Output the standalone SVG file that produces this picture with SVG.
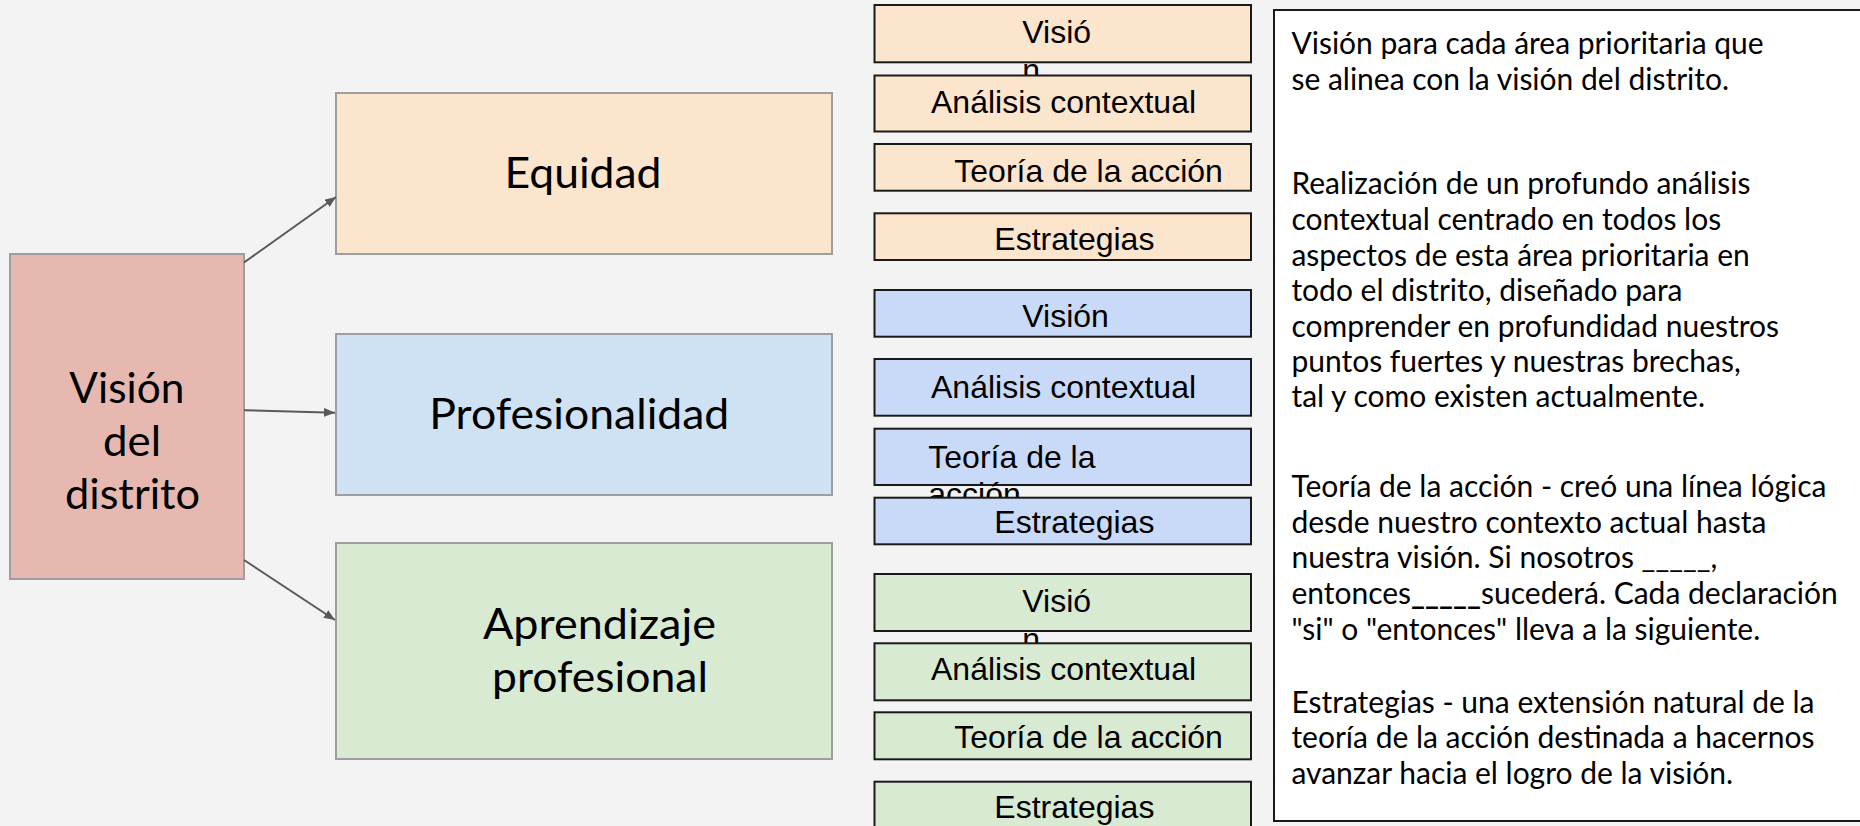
<svg xmlns="http://www.w3.org/2000/svg" width="1860" height="826" viewBox="0 0 1860 826">
<style>
.main{stroke:#9e9e9e;stroke-width:2}
.sm{stroke:#1a1a1a;stroke-width:2}
.lbl{font-family:Lato,"Open Sans","DejaVu Sans",sans-serif;font-size:43px;fill:#000}
.st{font-family:"Liberation Sans",Arial,sans-serif;font-size:32px;fill:#000}
.pt{font-family:Lato,"Open Sans","DejaVu Sans",sans-serif;font-size:30px;fill:#000}
.conn{stroke:#595959;stroke-width:2;fill:none}
</style>
<defs>
<marker id="arr" markerUnits="userSpaceOnUse" markerWidth="12" markerHeight="10" refX="11" refY="4.5" orient="auto">
<path d="M0,0 L11,4.5 L0,9 z" fill="#595959"/>
</marker>
</defs>
<rect x="0" y="0" width="1860" height="826" fill="#f3f3f3"/>

<g id="vision-distrito">
<rect x="10" y="254" width="234" height="325" fill="#e6b8af" class="main"/>
<text class="lbl" x="126.8" y="403" text-anchor="middle" textLength="115" lengthAdjust="spacingAndGlyphs">Visión</text>
<text class="lbl" x="132" y="456" text-anchor="middle" textLength="58" lengthAdjust="spacingAndGlyphs">del</text>
<text class="lbl" x="132.5" y="509" text-anchor="middle" textLength="135" lengthAdjust="spacingAndGlyphs">distrito</text>
</g>

<g id="equidad">
<rect x="336" y="93" width="496" height="161" fill="#fce5cd" class="main"/>
<text class="lbl" x="583" y="188.3" text-anchor="middle" textLength="157" lengthAdjust="spacingAndGlyphs">Equidad</text>
</g>

<g id="profesionalidad">
<rect x="336" y="334" width="496" height="161" fill="#cfe2f3" class="main"/>
<text class="lbl" x="579.3" y="429.3" text-anchor="middle" textLength="300" lengthAdjust="spacingAndGlyphs">Profesionalidad</text>
</g>

<g id="aprendizaje">
<rect x="336" y="543" width="496" height="216" fill="#d9ead3" class="main"/>
<text class="lbl" x="599.5" y="639" text-anchor="middle" textLength="233" lengthAdjust="spacingAndGlyphs">Aprendizaje</text>
<text class="lbl" x="600" y="692" text-anchor="middle" textLength="216" lengthAdjust="spacingAndGlyphs">profesional</text>
</g>

<g id="connectors">
<line class="conn" x1="244" y1="262.5" x2="336" y2="197" marker-end="url(#arr)"/>
<line class="conn" x1="244" y1="410.3" x2="335" y2="412.7" marker-end="url(#arr)"/>
<line class="conn" x1="244" y1="560" x2="335" y2="620" marker-end="url(#arr)"/>
</g>

<g id="eq-vision">
<rect x="874.5" y="5" width="376.5" height="57.3" fill="#fce5cd" class="sm"/>
<text class="st" x="1022.3" y="43.3">Visió</text>
<text class="st" x="1022.3" y="81">n</text>
</g>
<g id="eq-analisis">
<rect x="874.5" y="75.5" width="376.5" height="56" fill="#fce5cd" class="sm"/>
<text class="st" x="931" y="113.3">Análisis contextual</text>
</g>
<g id="eq-teoria">
<rect x="874.5" y="144" width="376.5" height="46.7" fill="#fce5cd" class="sm"/>
<text class="st" x="954.3" y="181.7">Teoría de la acción</text>
</g>
<g id="eq-estrategias">
<rect x="874.5" y="213.3" width="376.5" height="46.7" fill="#fce5cd" class="sm"/>
<text class="st" x="994.3" y="250">Estrategias</text>
</g>

<g id="pr-vision">
<rect x="874.5" y="290" width="376.5" height="46.7" fill="#c9daf8" class="sm"/>
<text class="st" x="1022.3" y="326.7">Visión</text>
</g>
<g id="pr-analisis">
<rect x="874.5" y="359" width="376.5" height="56.7" fill="#c9daf8" class="sm"/>
<text class="st" x="931" y="397.7">Análisis contextual</text>
</g>
<g id="pr-teoria">
<rect x="874.5" y="428.7" width="376.5" height="56.3" fill="#c9daf8" class="sm"/>
<text class="st" x="928.3" y="468.3">Teoría de la</text>
<text class="st" x="928.3" y="505.3">acción</text>
</g>
<g id="pr-estrategias">
<rect x="874.5" y="497.7" width="376.5" height="46.6" fill="#c9daf8" class="sm"/>
<text class="st" x="994.3" y="533.3">Estrategias</text>
</g>

<g id="ap-vision">
<rect x="874.5" y="574" width="376.5" height="57" fill="#d9ead3" class="sm"/>
<text class="st" x="1022.3" y="611.7">Visió</text>
<text class="st" x="1022.3" y="649.5">n</text>
</g>
<g id="ap-analisis">
<rect x="874.5" y="643.3" width="376.5" height="57" fill="#d9ead3" class="sm"/>
<text class="st" x="931" y="680">Análisis contextual</text>
</g>
<g id="ap-teoria">
<rect x="874.5" y="712.3" width="376.5" height="47" fill="#d9ead3" class="sm"/>
<text class="st" x="954.3" y="748.3">Teoría de la acción</text>
</g>
<g id="ap-estrategias">
<rect x="874.5" y="781.7" width="376.5" height="60" fill="#d9ead3" class="sm"/>
<text class="st" x="994.3" y="818.3">Estrategias</text>
</g>

<g id="descripcion">
<rect x="1274" y="10" width="600" height="811" fill="#ffffff" stroke="#1a1a1a" stroke-width="2"/>
<text class="pt" x="1291.4" y="54.3">Visión para cada área prioritaria que</text>
<text class="pt" x="1291.4" y="90">se alinea con la visión del distrito.</text>
<text class="pt" x="1291.4" y="194.3">Realización de un profundo análisis</text>
<text class="pt" x="1291.4" y="230">contextual centrado en todos los</text>
<text class="pt" x="1291.4" y="265.7">aspectos de esta área prioritaria en</text>
<text class="pt" x="1291.4" y="301.3">todo el distrito, diseñado para</text>
<text class="pt" x="1291.4" y="336.7">comprender en profundidad nuestros</text>
<text class="pt" x="1291.4" y="371.7">puntos fuertes y nuestras brechas,</text>
<text class="pt" x="1291.4" y="407.3">tal y como existen actualmente.</text>
<text class="pt" x="1291.4" y="497.3">Teoría de la acción - creó una línea lógica</text>
<text class="pt" x="1291.4" y="532.7">desde nuestro contexto actual hasta</text>
<text class="pt" x="1291.4" y="568.3">nuestra visión. Si nosotros _____,</text>
<text class="pt" x="1291.4" y="604">entonces<tspan font-weight="700">_____</tspan>sucederá. Cada declaración</text>
<text class="pt" x="1291.4" y="640">"si" o "entonces" lleva a la siguiente.</text>
<text class="pt" x="1291.4" y="713.3">Estrategias - una extensión natural de la</text>
<text class="pt" x="1291.4" y="748.3">teoría de la acción destinada a hacernos</text>
<text class="pt" x="1291.4" y="784">avanzar hacia el logro de la visión.</text>
</g>
</svg>
